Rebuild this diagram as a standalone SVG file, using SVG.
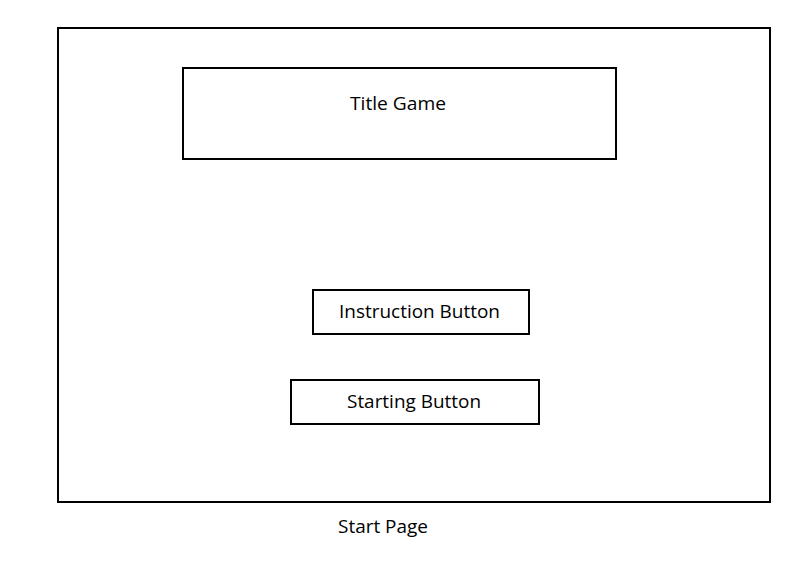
<svg xmlns="http://www.w3.org/2000/svg" width="809" height="574" viewBox="0 0 809 574">
<style>
.box{fill:none;stroke:#000;stroke-width:2}
.lbl{font-family:"Open Sans","Noto Sans",sans-serif;font-size:18px;fill:#000}
</style>
<rect width="809" height="574" fill="#fff"/>
<g id="page">
<rect class="box" x="58" y="28" width="712" height="474"/>
</g>
<g id="title">
<rect class="box" x="183" y="68" width="433" height="91"/>
<text class="lbl" x="350" y="110" textLength="96" lengthAdjust="spacingAndGlyphs">Title Game</text>
</g>
<g id="instruction">
<rect class="box" x="313" y="290" width="216" height="44"/>
<text class="lbl" x="339" y="318" textLength="161" lengthAdjust="spacingAndGlyphs">Instruction Button</text>
</g>
<g id="starting">
<rect class="box" x="291" y="380" width="248" height="44"/>
<text class="lbl" x="347" y="408" textLength="134" lengthAdjust="spacingAndGlyphs">Starting Button</text>
</g>
<g id="caption">
<text class="lbl" x="338" y="533" textLength="90" lengthAdjust="spacingAndGlyphs">Start Page</text>
</g>
<g id="connectors"></g>
</svg>
